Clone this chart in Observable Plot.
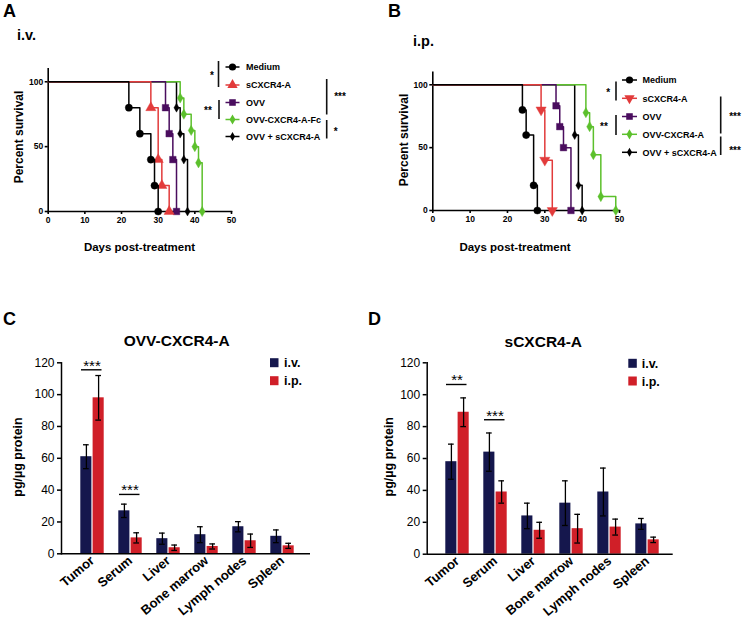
<!DOCTYPE html>
<html><head><meta charset="utf-8">
<script src="https://cdn.jsdelivr.net/npm/d3@7"></script>
<script src="https://cdn.jsdelivr.net/npm/@observablehq/plot@0.6"></script>
<style>
html,body{margin:0;padding:0;background:#fff;}
#root{position:relative;width:745px;height:626px;overflow:hidden;font-family:"Liberation Sans",Arial,Helvetica,sans-serif;}
.panel{position:absolute;}
#overlay{position:absolute;left:0;top:0;pointer-events:none;}
.surv [aria-label="frame"], .surv [aria-label$="axis tick"]{stroke-width:1.6px;}
.bars [aria-label="frame"], .bars [aria-label$="axis tick"]{stroke-width:1.5px;}
.bars g[aria-label="x-axis tick label"]{font-weight:bold;font-size:13px;}
</style></head><body><div id="root"></div>
<script>
const FONT = '"Liberation Sans", Arial, Helvetica, sans-serif';

// ---------- Panel A : survival after i.v. treatment ----------
const ivGroups = ["Medium", "sCXCR4-A", "OVV", "OVV-CXCR4-A-Fc", "OVV + sCXCR4-A"];
const ivMediumDays = [22, 25, 28, 29, 30];
const ivMediumPct  = [80, 60, 40, 20, 0];
const ivSolubleDays = [28, 30, 31, 33];
const ivSolublePct  = [80, 40, 20, 0];
const ivOvvDays = [32, 33, 34, 35];
const ivOvvPct  = [80, 60, 40, 0];
const ivOvvCxcrDays = [36, 37, 39, 40, 41, 42];
const ivOvvCxcrPct  = [87.5, 75, 62.5, 50, 37.5, 0];
const ivComboDays = [35, 36, 37, 38];
const ivComboPct  = [80, 60, 40, 0];

// ---------- Panel B : survival after i.p. treatment ----------
const ipGroups = ["Medium", "sCXCR4-A", "OVV", "OVV-CXCR4-A", "OVV + sCXCR4-A"];
const ipMediumDays = [24, 25, 27, 28];
const ipMediumPct  = [80, 60, 20, 0];
const ipSolubleDays = [29, 30, 32];
const ipSolublePct  = [80, 40, 0];
const ipOvvDays = [33, 34, 35, 37];
const ipOvvPct  = [83.3, 66.7, 50, 0];
const ipOvvCxcrDays = [41, 42, 43, 45, 49];
const ipOvvCxcrPct  = [77.8, 66.7, 44.4, 11.1, 0];
const ipComboDays = [38, 39, 40];
const ipComboPct  = [60, 20, 0];

const dayTicks = [0, 10, 20, 30, 40, 50];
const percentTicks = [0, 50, 100];

// ---------- Panels C / D : protein levels ----------
const organs = ["Tumor", "Serum", "Liver", "Bone marrow", "Lymph nodes", "Spleen"];
const routes = ["i.v.", "i.p."];
const proteinTicks = [0, 20, 40, 60, 80, 100, 120];

const cIvMean = [61, 27, 9.5, 12, 17, 11];
const cIvErr  = [7.5, 4.2, 3.5, 5, 3.2, 4];
const cIpMean = [98, 10, 3.8, 4.6, 8.2, 5];
const cIpErr  = [14, 3.2, 1.7, 1.6, 4.2, 1.6];
const cSigOrgans = ["Tumor", "Serum"];
const cSigLevel  = [115.6, 37.3];
const cSigLabel  = ["***", "***"];

const dIvMean = [58, 64, 24, 32, 39, 19];
const dIvErr  = [11, 12, 8, 14, 15, 3.4];
const dIpMean = [89, 39, 15, 16, 17, 9];
const dIpErr  = [9, 7, 5, 9, 5, 1.7];
const dSigOrgans = ["Tumor", "Serum"];
const dSigLevel  = [106.4, 84.3];
const dSigLabel  = ["**", "***"];

// ---------- styles ----------
const triangleDown = {
  draw(context, size) {
    const y = Math.sqrt(size / (Math.sqrt(3) * 3));
    context.moveTo(0, 2 * y);
    context.lineTo(-Math.sqrt(3) * y, -y);
    context.lineTo(Math.sqrt(3) * y, -y);
    context.closePath();
  }
};
const survColors = ["#000000", "#e23b3b", "#4a0d5e", "#5cc02c", "#000000"];
const survSymbolsA = [d3.symbolCircle, d3.symbolTriangle, d3.symbolSquare, d3.symbolDiamond, d3.symbolDiamond];
const survSymbolsB = [d3.symbolCircle, triangleDown, d3.symbolSquare, d3.symbolDiamond, d3.symbolDiamond];
const survR = [3.6, 3.8, 3.7, 3.1, 2.7];
const routeColors = ["#15174d", "#d01f28"];

const root = document.getElementById("root");
function place(node, left, top, cls) {
  const div = document.createElement("div");
  div.className = "panel " + cls;
  div.style.left = left + "px";
  div.style.top = top + "px";
  div.appendChild(node);
  root.appendChild(div);
}

function survivalPlot(seriesDays, seriesPct, symbols, box) {
  const marks = [];
  for (let i = seriesDays.length - 1; i >= 0; i--) {
    const pts = [{day: 0, pct: 100}].concat(seriesDays[i].map((d, j) => ({day: d, pct: seriesPct[i][j]})));
    marks.push(Plot.line(pts, {x: "day", y: "pct", curve: "step-after", stroke: survColors[i], strokeWidth: 1.5}));
    marks.push(Plot.dot(pts.slice(1), {x: "day", y: "pct", symbol: symbols[i], r: survR[i], fill: survColors[i], stroke: survColors[i], strokeWidth: 0.4}));
  }
  return Plot.plot({
    width: box.width, height: box.height,
    marginLeft: box.ml, marginRight: box.mr, marginTop: box.mt, marginBottom: box.mb,
    style: {fontFamily: FONT, fontSize: "8.5px", fontWeight: "bold", background: "transparent", color: "#000", overflow: "visible"},
    x: {domain: [0, 50], ticks: dayTicks, tickSize: 3, tickPadding: 2, label: null, line: true},
    y: {domain: [0, 110], ticks: percentTicks, tickSize: 3, tickPadding: 2, label: null, line: true},
    marks
  });
}

function barPlot(ivMean, ivErr, ipMean, ipErr, sigOrgans, sigLevel, sigLabel, box) {
  const iv = organs.map((o, i) => ({organ: o, route: routes[0], mean: ivMean[i], err: ivErr[i]}));
  const ip = organs.map((o, i) => ({organ: o, route: routes[1], mean: ipMean[i], err: ipErr[i]}));
  const sig = sigOrgans.map((o, i) => ({organ: o, level: sigLevel[i], label: sigLabel[i]}));
  const errMarks = (data, dx, capL, capR) => [
    Plot.ruleX(data, {x: "organ", y1: d => d.mean - d.err, y2: d => d.mean + d.err, dx, stroke: "#000", strokeWidth: 1.3}),
    Plot.tickY(data, {x: "organ", y: d => d.mean + d.err, insetLeft: capL, insetRight: capR, stroke: "#000", strokeWidth: 1.3}),
    Plot.tickY(data, {x: "organ", y: d => d.mean - d.err, insetLeft: capL, insetRight: capR, stroke: "#000", strokeWidth: 1.3})
  ];
  return Plot.plot({
    width: box.width, height: box.height,
    marginLeft: box.ml, marginRight: box.mr, marginTop: box.mt, marginBottom: box.mb,
    style: {fontFamily: FONT, fontSize: "12px", background: "transparent", color: "#000", overflow: "visible"},
    x: {type: "band", domain: organs, paddingInner: 0.38, paddingOuter: 0.42, align: 0.55,
        label: null, tickSize: 0, tickRotate: -40, tickPadding: 5},
    y: {domain: [0, 120], ticks: proteinTicks, tickSize: 4, tickPadding: 3, label: null, line: true},
    marks: [
      Plot.barY(iv, {x: "organ", y: "mean", fill: routeColors[0], insetLeft: 0.3, insetRight: 12.6}),
      Plot.barY(ip, {x: "organ", y: "mean", fill: routeColors[1], insetLeft: 12.6, insetRight: 0.3}),
      ...errMarks(iv, -6.1, 3, 15.3),
      ...errMarks(ip, 6.1, 15.3, 3),
      Plot.tickY(sig, {x: "organ", y: "level", insetLeft: 1, insetRight: 2.5, stroke: "#000", strokeWidth: 1.4}),
      Plot.text(sig, {x: "organ", y: "level", text: "label", dy: -4, dx: -0.5, fontSize: 15}),
      Plot.ruleY([0], {stroke: "#000", strokeWidth: 1.6})
    ]
  });
}

place(survivalPlot([ivMediumDays, ivSolubleDays, ivOvvDays, ivOvvCxcrDays, ivComboDays],
                   [ivMediumPct, ivSolublePct, ivOvvPct, ivOvvCxcrPct, ivComboPct], survSymbolsA,
                   {width: 245, height: 185, ml: 47.7, mr: 14, mt: 13.3, mb: 29}), 0, 55, "surv");
place(survivalPlot([ipMediumDays, ipSolubleDays, ipOvvDays, ipOvvCxcrDays, ipComboDays],
                   [ipMediumPct, ipSolublePct, ipOvvPct, ipOvvCxcrPct, ipComboPct], survSymbolsB,
                   {width: 260, height: 185, ml: 57.3, mr: 16, mt: 16.7, mb: 30}), 375, 55, "surv");
place(barPlot(cIvMean, cIvErr, cIpMean, cIpErr, cSigOrgans, cSigLevel, cSigLabel,
              {width: 330, height: 276, ml: 61, mr: 20, mt: 12.3, mb: 72.7}), 0, 350, "bars");
place(barPlot(dIvMean, dIvErr, dIpMean, dIpErr, dSigOrgans, dSigLevel, dSigLabel,
              {width: 330, height: 276, ml: 51.7, mr: 32.3, mt: 12.3, mb: 72.3}), 375, 350, "bars");

// ---------- overlay: letters, titles, legends, brackets ----------
const ov = d3.select(root).append("svg").attr("id", "overlay").attr("width", 745).attr("height", 626)
  .style("font-family", FONT);
function txt(x, y, s, size, weight, anchor, rotate) {
  const t = ov.append("text").attr("x", x).attr("y", y).text(s)
    .attr("font-size", size).attr("font-weight", weight || "bold")
    .attr("text-anchor", anchor || "start").attr("fill", "#000");
  if (rotate) t.attr("transform", `rotate(${rotate},${x},${y})`);
  return t;
}
function vline(x, y1, y2) {
  ov.append("line").attr("x1", x).attr("x2", x).attr("y1", y1).attr("y2", y2)
    .attr("stroke", "#111").attr("stroke-width", 1.6);
}

txt(3, 17, "A", 18); txt(388, 17, "B", 18);
txt(3, 325, "C", 18); txt(368, 325, "D", 18);
txt(17, 39.5, "i.v.", 14.5); txt(413, 46, "i.p.", 14.5);

// survival axis titles
txt(19 + 4.2, 137, "Percent survival", 12, "bold", "middle", -90);
txt(404 + 4.2, 140, "Percent survival", 12, "bold", "middle", -90);
txt(139.5, 251, "Days post-treatment", 11.5, "bold", "middle");
txt(515, 251, "Days post-treatment", 11.5, "bold", "middle");

function survLegend(names, symbols, x0, x1, xt, ys) {
  names.forEach((n, i) => {
    const y = ys[i];
    ov.append("line").attr("x1", x0).attr("x2", x1).attr("y1", y).attr("y2", y)
      .attr("stroke", survColors[i]).attr("stroke-width", 1.5);
    ov.append("path").attr("d", d3.symbol().type(symbols[i]).size(Math.PI * survR[i] * survR[i])())
      .attr("transform", `translate(${(x0 + x1) / 2},${y})`).attr("fill", survColors[i]);
    txt(xt, y + 3.2, n, 9);
  });
}
survLegend(ivGroups, survSymbolsA, 225.5, 239.5, 246, [67, 85, 102.5, 119.5, 136.5]);
survLegend(ipGroups, survSymbolsB, 622, 637, 642.5, [80, 98.3, 116.5, 134.3, 152.3]);

function star(cx, cy, s) { txt(cx, cy + 5.6, s, 10, "bold", "middle"); }
vline(218.5, 61, 87); star(212, 73, "*");
vline(219, 100, 119); star(208, 108.5, "**");
vline(326.7, 79, 114.5); star(340, 94.3, "***");
vline(326.7, 120, 138.5); star(335.7, 129, "*");
vline(616, 81.5, 100.5); star(608.3, 90, "*");
vline(616, 115, 135); star(604, 124.3, "**");
vline(720.7, 96.5, 133.5); star(735, 114.3, "***");
vline(720.7, 136.5, 155); star(735, 148.3, "***");

// bar panels titles, axis titles, legends
txt(176.7, 345.5, "OVV-CXCR4-A", 15.5, "bold", "middle");
txt(543.3, 347, "sCXCR4-A", 15.5, "bold", "middle");
txt(17 + 4.5, 457, "pg/\u00b5g protein", 12.5, "bold", "middle", -90);
txt(388.3 + 4.5, 456.7, "pg/\u00b5g protein", 12.5, "bold", "middle", -90);
function barLegend(xs, xt, ys) {
  routes.forEach((r, i) => {
    ov.append("rect").attr("x", xs).attr("y", ys[i] - 4.5).attr("width", 8.5).attr("height", 9)
      .attr("fill", routeColors[i]);
    txt(xt, ys[i] + 4.5, r, 12.5);
  });
}
barLegend(270, 284, [362.7, 380.7]);
barLegend(628.3, 641.7, [363.3, 381]);
</script></body></html>
